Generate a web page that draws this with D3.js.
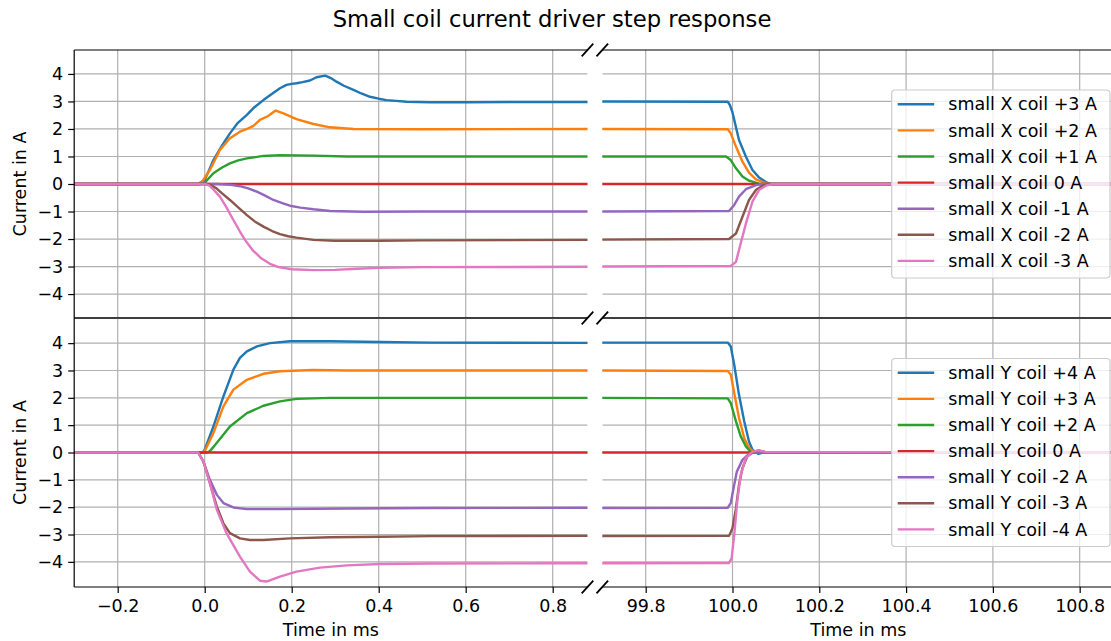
<!DOCTYPE html>
<html>
<head>
<meta charset="utf-8">
<script src="https://cdn.jsdelivr.net/npm/d3@7"></script>
<style>
  html, body { margin: 0; padding: 0; background: #fff; }
  svg { display: block; font-family: "DejaVu Sans", sans-serif; }
</style>
</head>
<body>
<svg id="chart" width="1111" height="641"></svg>
<script>
// ---------------- DATA ----------------
const chartTitle = "Small coil current driver step response";
const yLabel = "Current in A";
const xLabel = "Time in ms";
const colors = ["#1f77b4", "#ff7f0e", "#2ca02c", "#d62728", "#9467bd", "#8c564b", "#e377c2"];

const xCoilLabels = ["small X coil +3 A", "small X coil +2 A", "small X coil +1 A", "small X coil 0 A",
                     "small X coil -1 A", "small X coil -2 A", "small X coil -3 A"];
const yCoilLabels = ["small Y coil +4 A", "small Y coil +3 A", "small Y coil +2 A", "small Y coil 0 A",
                     "small Y coil -2 A", "small Y coil -3 A", "small Y coil -4 A"];

const yTickValues = [-4, -3, -2, -1, 0, 1, 2, 3, 4];
const leftTickValues = [-0.2, 0.0, 0.2, 0.4, 0.6, 0.8];
const rightTickValues = [99.8, 100.0, 100.2, 100.4, 100.6, 100.8];
const leftDomain = [-0.3, 0.88];
const rightDomain = [99.7, 100.88];

// X coil, switch-on (t in ms, current in A)
const xP3On = [[-0.3,0],[-0.015,0],[0,0.15],[0.01,0.5],[0.02,0.87],[0.04,1.4],[0.058,1.84],[0.075,2.2],[0.097,2.51],[0.115,2.8],[0.135,3.05],[0.155,3.28],[0.173,3.48],[0.188,3.6],[0.2,3.64],[0.211,3.66],[0.225,3.7],[0.242,3.76],[0.257,3.88],[0.277,3.94],[0.29,3.85],[0.303,3.72],[0.32,3.57],[0.342,3.42],[0.36,3.29],[0.38,3.17],[0.4,3.1],[0.418,3.05],[0.44,3.02],[0.464,2.99],[0.518,2.97],[0.6,2.97],[0.7,2.98],[0.88,2.98]];
const xP2On = [[-0.3,0],[-0.015,0],[-0.005,0.1],[0.012,0.51],[0.035,1.24],[0.058,1.66],[0.081,1.9],[0.1,2.02],[0.112,2.11],[0.127,2.33],[0.146,2.47],[0.163,2.67],[0.181,2.57],[0.211,2.36],[0.25,2.18],[0.288,2.06],[0.342,2.0],[0.5,1.99],[0.88,2.0]];
const xP1On = [[-0.3,0],[-0.01,0],[0,0.05],[0.02,0.39],[0.04,0.6],[0.058,0.75],[0.077,0.86],[0.097,0.93],[0.135,1.02],[0.173,1.05],[0.25,1.03],[0.327,1.0],[0.88,1.0]];
const x0On  = [[-0.3,0],[0.3,0.0],[0.88,0]];
const xM1On = [[-0.3,0],[0.03,0],[0.06,-0.03],[0.081,-0.08],[0.1,-0.16],[0.12,-0.28],[0.14,-0.43],[0.158,-0.58],[0.18,-0.7],[0.196,-0.79],[0.22,-0.86],[0.25,-0.92],[0.288,-0.98],[0.365,-1.01],[0.5,-1.0],[0.88,-1.0]];
const xM2On = [[-0.3,0],[0.005,0],[0.012,-0.02],[0.027,-0.16],[0.04,-0.34],[0.058,-0.58],[0.077,-0.85],[0.097,-1.13],[0.115,-1.36],[0.135,-1.55],[0.155,-1.71],[0.173,-1.82],[0.192,-1.9],[0.211,-1.95],[0.25,-2.03],[0.3,-2.06],[0.4,-2.06],[0.5,-2.05],[0.88,-2.03]];
const xM3On = [[-0.3,0],[0,0],[0.01,-0.05],[0.02,-0.2],[0.035,-0.46],[0.05,-0.85],[0.066,-1.31],[0.08,-1.7],[0.093,-2.04],[0.11,-2.4],[0.13,-2.7],[0.15,-2.9],[0.17,-3.02],[0.2,-3.1],[0.25,-3.13],[0.3,-3.12],[0.35,-3.08],[0.4,-3.05],[0.5,-3.02],[0.88,-3.01]];

// X coil, switch-off
const xP3Off = [[99.7,3.0],[99.989,2.99],[99.994,2.87],[100.0,2.6],[100.004,2.33],[100.015,1.6],[100.031,0.99],[100.046,0.51],[100.061,0.24],[100.077,0.07],[100.088,0],[100.88,0]];
const xP2Off = [[99.7,2.0],[99.989,1.99],[99.996,1.84],[100.008,1.36],[100.023,0.81],[100.038,0.41],[100.054,0.17],[100.077,0.03],[100.085,0],[100.88,0]];
const xP1Off = [[99.7,1.0],[99.985,1.0],[99.996,0.87],[100.008,0.57],[100.023,0.27],[100.038,0.12],[100.061,0.01],[100.07,0],[100.88,0]];
const x0Off  = [[99.7,0],[100.3,0],[100.88,0]];
const xM1Off = [[99.7,-1.0],[99.992,-0.98],[100.004,-0.76],[100.015,-0.46],[100.031,-0.19],[100.054,-0.04],[100.07,0],[100.88,0]];
const xM2Off = [[99.7,-2.02],[99.992,-2.0],[100.008,-1.8],[100.023,-1.19],[100.038,-0.58],[100.054,-0.22],[100.069,-0.06],[100.085,0],[100.88,0]];
const xM3Off = [[99.7,-3.0],[99.996,-2.98],[100.008,-2.83],[100.015,-2.4],[100.031,-1.43],[100.046,-0.64],[100.061,-0.22],[100.077,-0.06],[100.092,0],[100.88,0]];

// Y coil, switch-on
const yP4On = [[-0.3,0],[-0.005,0],[0,0.1],[0.02,0.95],[0.043,2.05],[0.066,3.03],[0.081,3.46],[0.097,3.7],[0.12,3.88],[0.15,4.0],[0.196,4.07],[0.288,4.07],[0.403,4.04],[0.518,4.02],[0.88,4.01]];
const yP3On = [[-0.3,0],[-0.005,0],[0,0.05],[0.02,0.71],[0.043,1.69],[0.066,2.3],[0.097,2.66],[0.135,2.88],[0.173,2.97],[0.25,3.02],[0.327,3.0],[0.88,3.0]];
const yP2On = [[-0.3,0],[0.005,0],[0.012,0.05],[0.027,0.34],[0.058,0.95],[0.097,1.44],[0.135,1.71],[0.173,1.87],[0.211,1.96],[0.288,2.0],[0.88,2.0]];
const y0On  = [[-0.3,0],[0.3,0],[0.88,0]];
const yM2On = [[-0.3,0],[-0.015,0],[-0.003,-0.33],[0.012,-1.0],[0.028,-1.55],[0.043,-1.85],[0.066,-2.01],[0.097,-2.07],[0.173,-2.07],[0.327,-2.05],[0.518,-2.03],[0.88,-2.02]];
const yM3On = [[-0.3,0],[-0.015,0],[-0.003,-0.33],[0.012,-1.12],[0.028,-1.98],[0.043,-2.59],[0.058,-2.95],[0.081,-3.14],[0.104,-3.2],[0.135,-3.2],[0.196,-3.14],[0.288,-3.1],[0.403,-3.08],[0.518,-3.06],[0.88,-3.05]];
const yM4On = [[-0.3,0],[-0.015,0],[-0.003,-0.33],[0.012,-1.12],[0.028,-2.1],[0.05,-2.95],[0.081,-3.81],[0.104,-4.36],[0.127,-4.69],[0.142,-4.72],[0.173,-4.54],[0.211,-4.36],[0.265,-4.21],[0.327,-4.13],[0.403,-4.08],[0.518,-4.06],[0.88,-4.05]];

// Y coil, switch-off
const yP4Off = [[99.7,4.02],[99.989,4.02],[99.996,3.88],[100.004,3.21],[100.015,2.11],[100.027,1.14],[100.038,0.4],[100.046,0.1],[100.054,0],[100.06,-0.05],[100.07,0],[100.88,0]];
const yP3Off = [[99.7,3.0],[99.989,2.98],[99.996,2.85],[100.004,2.18],[100.015,1.26],[100.027,0.53],[100.038,0.17],[100.05,0],[100.88,0]];
const yP2Off = [[99.7,2.0],[99.989,1.98],[99.996,1.81],[100.008,1.14],[100.019,0.59],[100.031,0.22],[100.042,0.02],[100.05,0],[100.88,0]];
const y0Off  = [[99.7,0],[100.3,0],[100.88,0]];
const yM2Off = [[99.7,-2.03],[99.989,-2.02],[99.996,-1.85],[100.004,-1.18],[100.01,-0.7],[100.023,-0.27],[100.038,-0.05],[100.05,0],[100.88,0]];
const yM3Off = [[99.7,-3.06],[99.992,-3.05],[100.0,-2.77],[100.008,-2.04],[100.015,-1.18],[100.023,-0.57],[100.034,-0.15],[100.046,0],[100.06,0.08],[100.075,0.02],[100.88,0]];
const yM4Off = [[99.7,-4.05],[99.992,-4.04],[99.998,-3.87],[100.004,-3.01],[100.011,-1.79],[100.019,-0.82],[100.031,-0.2],[100.046,0.02],[100.06,0.08],[100.075,0.02],[100.88,0]];

const xOnSeries  = [xP3On, xP2On, xP1On, x0On, xM1On, xM2On, xM3On];
const xOffSeries = [xP3Off, xP2Off, xP1Off, x0Off, xM1Off, xM2Off, xM3Off];
const yOnSeries  = [yP4On, yP3On, yP2On, y0On, yM2On, yM3On, yM4On];
const yOffSeries = [yP4Off, yP3Off, yP2Off, y0Off, yM2Off, yM3Off, yM4Off];

// ---------------- LAYOUT ----------------
const FONT = 17.5;
const svg = d3.select("#chart");
const colL = [74.2, 587.5];
const colR = [602.3, 1114.4];
const rowT = [50, 318];
const rowB = [318, 587];

const xL = d3.scaleLinear().domain(leftDomain).range(colL);
const xR = d3.scaleLinear().domain(rightDomain).range(colR);
const yT = d3.scaleLinear().domain([-4.87, 4.87]).range([rowT[1], rowT[0]]);
const yB = d3.scaleLinear().domain([-4.92, 4.92]).range([rowB[1], rowB[0]]);

const defs = svg.append("defs");
let clipId = 0;
function panel(x, y, xticks, onSeries) {
  const id = "clip" + (clipId++);
  const [x0, x1] = x.range();
  const [y1, y0] = y.range();
  defs.append("clipPath").attr("id", id).append("rect")
    .attr("x", x0).attr("y", y0).attr("width", x1 - x0).attr("height", y1 - y0);
  const g = svg.append("g");
  const grid = g.append("g").attr("clip-path", `url(#${id})`);
  grid.selectAll(".gx").data(xticks).join("line")
    .attr("x1", d => x(d)).attr("x2", d => x(d)).attr("y1", y0).attr("y2", y1)
    .attr("stroke", "#b0b0b0").attr("stroke-width", 1.2);
  grid.selectAll(".gy").data(yTickValues).join("line")
    .attr("x1", x0).attr("x2", x1).attr("y1", d => y(d)).attr("y2", d => y(d))
    .attr("stroke", "#b0b0b0").attr("stroke-width", 1.2);
  const line = d3.line().x(d => x(d[0])).y(d => y(d[1]));
  g.append("g").attr("clip-path", `url(#${id})`)
    .selectAll("path").data(onSeries).join("path")
    .attr("d", line).attr("fill", "none")
    .attr("stroke", (d, i) => colors[i]).attr("stroke-width", 2.4)
    .attr("stroke-linejoin", "round").attr("stroke-linecap", "square");
  [y0, y1].forEach(yy => g.append("line").attr("x1", x0).attr("x2", x1)
    .attr("y1", yy).attr("y2", yy).attr("stroke", "#000").attr("stroke-width", 1.2));
  return g;
}

panel(xL, yT, leftTickValues, xOnSeries);
panel(xR, yT, rightTickValues, xOffSeries);
panel(xL, yB, leftTickValues, yOnSeries);
panel(xR, yB, rightTickValues, yOffSeries);

svg.append("line").attr("x1", colL[0]).attr("x2", colL[0]).attr("y1", rowT[0]).attr("y2", rowB[1])
  .attr("stroke", "#000").attr("stroke-width", 1.2);

function styleAxis(g) {
  g.select(".domain").remove();
  g.selectAll(".tick line").attr("stroke", "#000").attr("stroke-width", 1.2);
  g.selectAll(".tick text").attr("fill", "#000").style("font-size", FONT + "px")
    .style("font-family", "'DejaVu Sans', sans-serif");
}
svg.append("g").attr("transform", `translate(${colL[0]},0)`)
  .call(d3.axisLeft(yT).tickValues(yTickValues).tickSize(6).tickPadding(5)).call(styleAxis);
svg.append("g").attr("transform", `translate(${colL[0]},0)`)
  .call(d3.axisLeft(yB).tickValues(yTickValues).tickSize(6).tickPadding(5)).call(styleAxis);
svg.append("g").attr("transform", `translate(0,${rowB[1]})`)
  .call(d3.axisBottom(xL).tickValues(leftTickValues).tickFormat(d3.format(".1f")).tickSize(6).tickPadding(7)).call(styleAxis);
svg.append("g").attr("transform", `translate(0,${rowB[1]})`)
  .call(d3.axisBottom(xR).tickValues(rightTickValues).tickFormat(d3.format(".1f")).tickSize(6).tickPadding(7)).call(styleAxis);

// break marks
[colL[1], colR[0]].forEach(bx => [rowT[0], rowT[1], rowB[1]].forEach(by => {
  svg.append("line").attr("x1", bx - 5.8).attr("y1", by + 6.3).attr("x2", bx + 5.8).attr("y2", by - 6.3)
    .attr("stroke", "#000").attr("stroke-width", 1.8);
}));

function text(x, y, s, size) {
  return svg.append("text").attr("x", x).attr("y", y).text(s)
    .style("font-size", size + "px").attr("text-anchor", "middle").attr("fill", "#000");
}
svg.append("text").attr("transform", `translate(552,27)`).attr("text-anchor", "middle")
  .style("font-size", "22.7px").text(chartTitle);
[rowT, rowB].forEach(r => {
  svg.append("text").attr("transform", `translate(26,${(r[0] + r[1]) / 2}) rotate(-90)`)
    .attr("text-anchor", "middle").style("font-size", FONT + "px").text(yLabel);
});
text((colL[0] + colL[1]) / 2, 636, xLabel, FONT);
text((colR[0] + colR[1]) / 2, 636, xLabel, FONT);

function legend(labels, cy) {
  const w = 218.3, h = 188, right = 1110;
  const left = right - w, top = cy - h / 2;
  const g = svg.append("g");
  g.append("rect").attr("x", left).attr("y", top).attr("width", w).attr("height", h)
    .attr("rx", 3.5).attr("fill", "#fff").attr("fill-opacity", 0.8)
    .attr("stroke", "#cccccc").attr("stroke-width", 1.2);
  labels.forEach((lab, i) => {
    const ry = top + 14.3 + i * 26.1;
    g.append("line").attr("x1", left + 6).attr("x2", left + 42.5).attr("y1", ry).attr("y2", ry)
      .attr("stroke", colors[i]).attr("stroke-width", 2.4);
    g.append("text").attr("x", left + 56.6).attr("y", ry).attr("dy", "0.35em")
      .style("font-size", FONT + "px").attr("fill", "#000").text(lab);
  });
}
legend(xCoilLabels, yT(0));
legend(yCoilLabels, yB(0));
</script>
</body>
</html>
